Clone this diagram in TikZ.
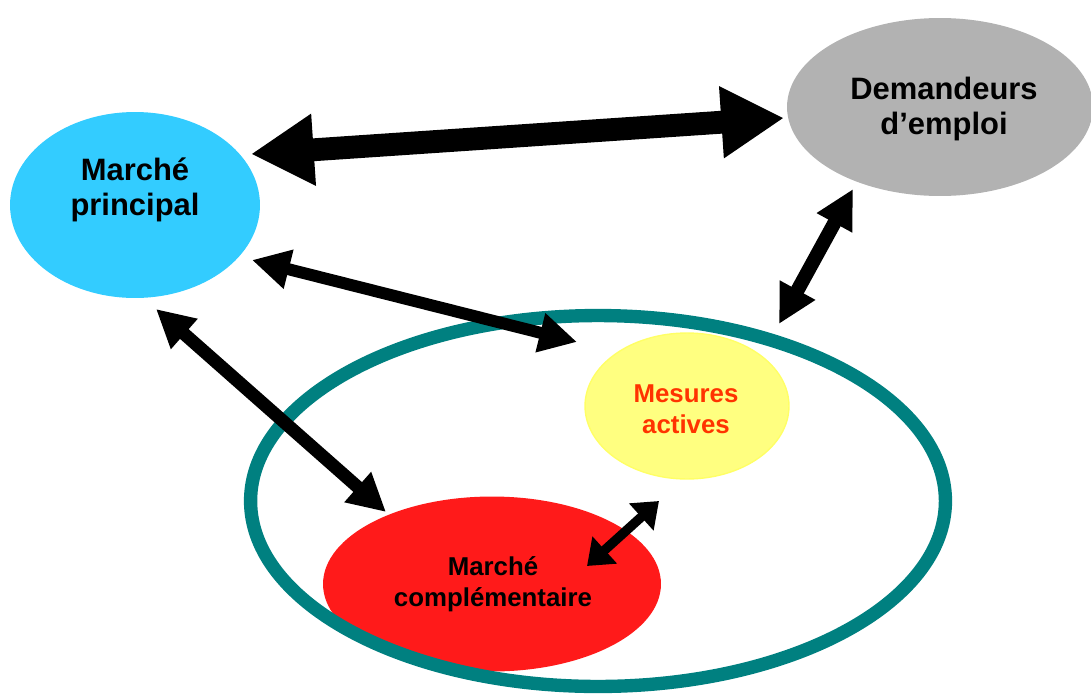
\documentclass[tikz,border=0pt]{standalone}
\usepackage{fontspec}
\setmainfont{Liberation Sans}
\usetikzlibrary{shapes.geometric,arrows.meta}
\definecolor{ciel}{HTML}{33CCFF}
\definecolor{gris}{HTML}{B2B2B2}
\definecolor{jaune}{HTML}{FFFF80}
\definecolor{jaunebord}{HTML}{FFFF66}
\definecolor{rouge}{HTML}{FF1A1A}
\definecolor{sarcelle}{HTML}{008080}
\definecolor{orangetxt}{HTML}{FF3300}
\begin{document}
\begin{tikzpicture}[x=0.02cm,y=-0.02cm,
    bulle/.style={ellipse,inner sep=0pt},
    grostxt/.style={align=center,font=\fontsize{17.6}{19.6}\selectfont\bfseries},
    petittxt/.style={align=center,font=\fontsize{14.7}{17.6}\selectfont\bfseries},
    fl/.style n args={3}{line width=#1,arrows={Triangle[length=#2,width=#3]-Triangle[length=#2,width=#3]}}]
    \useasboundingbox (0,0) rectangle (1091,693);

    % les bulles
    \node[bulle,fill=rouge,minimum width=6.76cm,minimum height=3.5cm] (compl) at (492,584) {};
    \node[bulle,fill=jaune,draw=jaunebord,line width=0.8pt,minimum width=4.08cm,minimum height=2.92cm] (mesures) at (687,406) {};
    \node[bulle,draw=sarcelle,line width=7.6pt,minimum width=13.9cm,minimum height=7.42cm] (anneau) at (598,501) {};
    \node[bulle,fill=ciel,minimum width=5cm,minimum height=3.72cm] (principal) at (135,205) {};
    \node[bulle,fill=gris,minimum width=6.12cm,minimum height=3.56cm] (demandeurs) at (940,107) {};

    % les textes
    \node[grostxt] (principal-t) at (135,190) {Marché\\principal};
    \node[grostxt] (demandeurs-t) at (944,109) {Demandeurs\\d’emploi};
    \node[petittxt,text=orangetxt] (mesures-t) at (686,409) {Mesures\\actives};
    \node[petittxt] (compl-t) at (493,584) {Marché\\complémentaire};

    % bouts des flèches
    \coordinate (p1) at (251,154); \coordinate (d1) at (784,118);
    \coordinate (p2) at (252,260); \coordinate (m2) at (577,342);
    \coordinate (p3) at (156,309); \coordinate (c3) at (386,512);
    \coordinate (d4) at (853,189); \coordinate (a4) at (779,324);
    \coordinate (m5) at (659,501); \coordinate (c5) at (587,566);

    \draw[fl={13pt}{35.7pt}{38.5pt}] (p1)--(d1);
    \draw[fl={6.8pt}{21.5pt}{21.5pt}] (p2)--(m2);
    \draw[fl={7.4pt}{21.5pt}{21.5pt}] (p3)--(c3);
    \draw[fl={8pt}{22pt}{21.5pt}] (d4)--(a4);
    \draw[fl={5.4pt}{13.6pt}{20pt}] (m5)--(c5);

\end{tikzpicture}
\end{document}
